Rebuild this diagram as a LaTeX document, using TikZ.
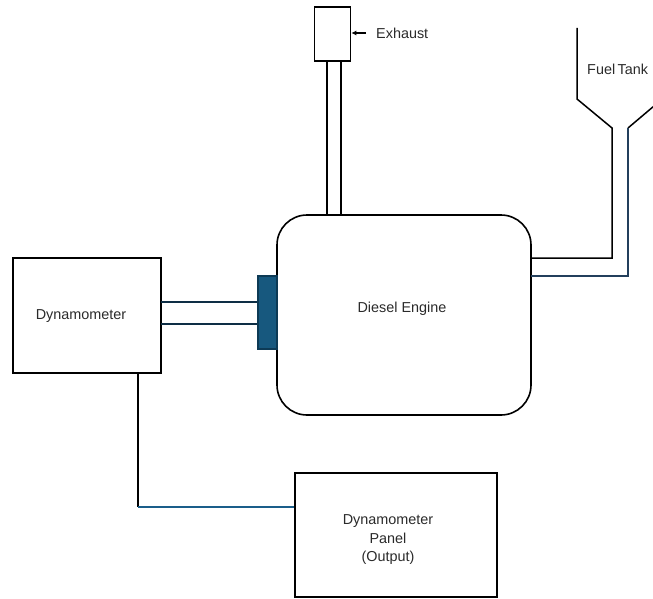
\documentclass[tikz,border=0pt]{standalone}
\usepackage{fontspec}
\setmainfont{Liberation Sans}
\usetikzlibrary{arrows.meta}
\definecolor{shaftc}{HTML}{0E2E45}
\definecolor{couplc}{HTML}{17587E}
\definecolor{couplb}{HTML}{0D3A55}
\definecolor{bluel}{HTML}{1A5E8A}
\definecolor{fuelc}{HTML}{233F5C}
\definecolor{txt}{HTML}{2A2A2A}
\tikzset{
  x=1pt, y=-1pt,
  box/.style={draw=black, line width=1.6pt, rectangle, inner sep=0pt},
  pipe/.style={draw=black, line width=1.5pt},
  lbl/.style={text=txt, font=\fontsize{14.4}{18.5}\selectfont, inner sep=0pt, align=center}
}
\begin{document}
\begin{tikzpicture}
\useasboundingbox (0,0) rectangle (653,599);
% dynamometer
\node[box, minimum width=148pt, minimum height=115pt] (dyn) at (87,315.5) {};
\node[lbl] (dynt) at (81,316) {Dynamometer};
% engine
\draw[line width=1.6pt, rounded corners=30pt] (277,215) rectangle (531,415);
\node[lbl] (engt) at (402,309) {Diesel Engine};
% shaft
\coordinate (s1a) at (161,302);
\coordinate (s1b) at (258,302);
\coordinate (s2a) at (161,324);
\coordinate (s2b) at (258,324);
\draw[shaftc, line width=1.5pt] (s1a) -- (s1b);
\draw[shaftc, line width=1.5pt] (s2a) -- (s2b);
% coupling
\node[draw=couplb, fill=couplc, line width=1.2pt, minimum width=19pt, minimum height=73pt, inner sep=0pt] (coup) at (267.5,312.5) {};
% exhaust
\coordinate (ex1a) at (327,215);
\coordinate (ex1b) at (327,61);
\coordinate (ex2a) at (341,215);
\coordinate (ex2b) at (341,61);
\draw[pipe] (ex1a) -- (ex1b);
\draw[pipe] (ex2a) -- (ex2b);
\node[box, minimum width=36pt, minimum height=54pt] (exbox) at (332.5,34) {};
\coordinate (arrtail) at (366,33);
\draw[line width=1.3pt, -{Latex[length=5pt,width=5pt]}] (arrtail) -- (exbox.east |- arrtail);
\node[lbl, anchor=west] (ext) at (376,33) {Exhaust};
% fuel tank
\coordinate (f1) at (577,28);
\coordinate (f2) at (577,99);
\coordinate (f3) at (612,128);
\coordinate (f4) at (612,258);
\coordinate (f5) at (531,258);
\draw[pipe, line join=miter] (f1) -- (f2) -- (f3) -- (f4) -- (f5);
\coordinate (g1) at (654,106);
\coordinate (g2) at (628,128);
\coordinate (g3) at (628,276);
\coordinate (g4) at (531,276);
\draw[pipe] (g1) -- (g2);
\draw[fuelc, line width=1.5pt] (g2) -- (g3) -- (g4);
\node[lbl, anchor=west] (fuelt) at (587,69) {Fuel\,Tank};
% panel
\node[box, minimum width=202pt, minimum height=124pt] (panel) at (396,535) {};
\node[lbl] (panelt) at (388,540) {Dynamometer\\Panel\\(Output)};
% output line
\coordinate (o1) at (138,373);
\coordinate (o2) at (138,507);
\draw[pipe] (o1) -- (o2);
\draw[bluel, line width=1.6pt] (o2) -- (panel.west |- o2);
\end{tikzpicture}
\end{document}
